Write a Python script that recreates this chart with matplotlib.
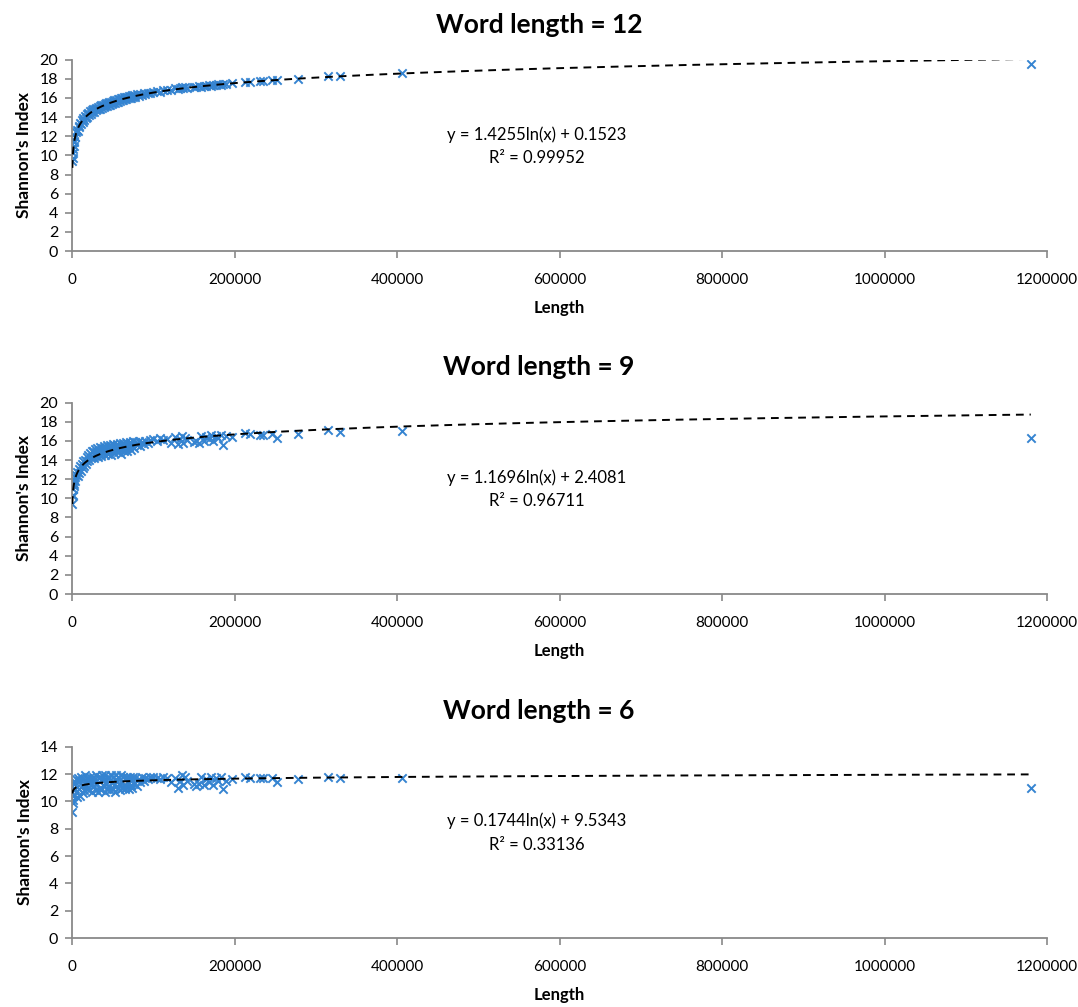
import numpy as np
import matplotlib
matplotlib.use('Agg')
import matplotlib.pyplot as plt

plt.rcParams['font.family'] = ['Lato', 'DejaVu Sans']

# sequence lengths (shared by the three panels)
lengths = [
    400, 700, 1000, 1500, 2000, 2500, 3000, 3500, 4000, 5000,
    6000, 7000, 8000, 9000, 10000, 11000, 12000, 13000, 14000, 15000,
    16000, 17000, 18000, 19000, 20000, 21000, 22000, 23000, 24000, 25000,
    26000, 27000, 28000, 29000, 30000, 31000, 32000, 33000, 34000, 35000,
    36000, 37000, 38000, 39000, 40000, 41000, 42000, 43000, 44000, 45000,
    46000, 47000, 48000, 49000, 50000, 51000, 52000, 53000, 54000, 55000,
    56000, 57000, 58000, 59000, 60000, 61000, 62000, 63000, 64000, 65000,
    66000, 67000, 68000, 69000, 70000, 71000, 72000, 73000, 74000, 75000,
    76000, 78000, 80000, 82000, 84000, 86000, 88000, 90000, 93000, 96000,
    100000, 104000, 108000, 112000, 117000, 122000, 127000, 130000, 133000, 135000,
    137000, 139000, 141000, 150000, 153000, 156000, 159000, 162000, 165000, 168000,
    171000, 174000, 177000, 180000, 183000, 186000, 190000, 196600, 213000, 219000,
    231500, 235000, 245800, 252000, 278500, 315400, 330000, 405800, 1180000,
]

shannon_12 = [
    9.4, 9.7, 10.2, 10.7, 11.0, 11.4, 11.5, 11.9, 11.9, 12.4,
    12.7, 12.6, 13.1, 13.0, 13.4, 13.3, 13.7, 13.5, 13.9, 13.7,
    14.1, 13.9, 14.3, 14.0, 14.4, 14.2, 14.6, 14.3, 14.7, 14.5,
    14.8, 14.5, 14.9, 14.7, 15.0, 14.8, 15.1, 14.9, 15.2, 14.9,
    15.3, 15.0, 15.3, 15.1, 15.4, 15.2, 15.5, 15.2, 15.5, 15.3,
    15.6, 15.3, 15.6, 15.4, 15.7, 15.5, 15.8, 15.5, 15.8, 15.6,
    15.9, 15.6, 15.9, 15.7, 16.0, 15.8, 16.0, 15.8, 16.1, 15.9,
    16.1, 15.9, 16.1, 16.0, 16.2, 16.0, 16.2, 16.0, 16.3, 16.1,
    16.3, 16.1, 16.4, 16.2, 16.4, 16.3, 16.5, 16.4, 16.5, 16.5,
    16.6, 16.7, 16.6, 16.8, 16.8, 16.8, 17.0, 16.9, 17.0, 17.1,
    17.0, 17.1, 17.0, 17.2, 17.1, 17.3, 17.2, 17.3, 17.3, 17.4,
    17.3, 17.4, 17.4, 17.5, 17.4, 17.5, 17.5, 17.6, 17.7, 17.7,
    17.8, 17.8, 17.9, 17.9, 18.0, 18.3, 18.3, 18.6, 19.6,
]

shannon_9 = [
    9.4, 10.2, 10.4, 11.0, 11.5, 11.3, 11.9, 12.2, 11.8, 12.4,
    12.8, 12.3, 13.1, 12.7, 13.4, 12.9, 13.6, 13.2, 13.9, 13.4,
    14.0, 13.6, 14.3, 13.9, 14.5, 14.0, 14.7, 14.2, 14.9, 14.3,
    15.0, 14.2, 15.2, 14.4, 14.8, 15.3, 14.3, 15.1, 14.6, 15.4,
    14.4, 15.3, 14.8, 15.5, 14.5, 15.2, 14.9, 15.6, 14.6, 15.3,
    14.9, 15.6, 14.5, 15.4, 15.0, 15.7, 14.7, 15.5, 15.1, 15.7,
    14.8, 15.6, 15.2, 15.8, 14.6, 15.5, 15.1, 15.8, 14.9, 15.6,
    15.3, 15.9, 15.0, 15.7, 15.4, 15.9, 15.1, 15.8, 15.5, 16.0,
    15.3, 15.9, 15.6, 16.0, 15.5, 15.9, 15.7, 16.0, 15.8, 16.1,
    16.2, 16.0, 16.3, 16.1, 16.2, 15.8, 16.4, 15.7, 16.2, 16.5,
    15.8, 16.3, 16.1, 15.9, 16.0, 15.8, 16.5, 16.0, 16.4, 16.2,
    16.6, 16.0, 16.5, 16.3, 16.6, 15.6, 16.5, 16.4, 16.8, 16.7,
    16.6, 16.6, 16.7, 16.3, 16.7, 17.1, 16.9, 17.0, 16.35,
]

shannon_6 = [
    9.2, 9.9, 10.4, 10.1, 10.8, 11.3, 10.5, 11.4, 10.9, 11.6,
    10.3, 11.7, 10.9, 11.5, 10.4, 11.8, 11.1, 10.6, 11.6, 10.8,
    11.9, 11.2, 10.9, 11.7, 11.4, 10.8, 11.8, 11.2, 11.5, 10.7,
    11.8, 11.1, 11.6, 10.8, 11.9, 11.3, 10.7, 11.7, 11.0, 11.8,
    10.8, 11.9, 11.2, 11.6, 10.7, 11.9, 11.3, 10.9, 11.8, 11.1,
    11.7, 10.8, 11.9, 11.4, 10.9, 11.8, 11.2, 10.7, 11.9, 11.5,
    11.0, 11.8, 11.3, 10.8, 11.9, 11.4, 11.0, 11.8, 11.2, 10.9,
    11.7, 11.1, 11.8, 11.4, 10.9, 11.8, 11.2, 11.6, 11.0, 11.8,
    11.3, 11.7, 11.1, 11.6, 11.4, 11.8, 11.5, 11.7, 11.6, 11.8,
    11.8, 11.7, 11.6, 11.8, 11.7, 11.4, 11.7, 11.0, 11.5, 11.9,
    11.2, 11.8, 11.5, 11.3, 11.1, 11.3, 11.8, 11.2, 11.6, 11.4,
    11.8, 11.2, 11.7, 11.5, 11.8, 10.9, 11.5, 11.6, 11.8, 11.7,
    11.7, 11.7, 11.7, 11.4, 11.6, 11.8, 11.7, 11.7, 11.0,
]

titles = ['Word length = 12', 'Word length = 9', 'Word length = 6']
series = [shannon_12, shannon_9, shannon_6]
# logarithmic trendline coefficients shown on the chart: y = a ln(x) + b
trend_a = [1.4255, 1.1696, 0.1744]
trend_b = [0.1523, 2.4081, 9.5343]
trend_r2 = ['0.99952', '0.96711', '0.33136']
y_max = [20, 20, 14]

grey = '#898989'
blue = '#3584d1'

fig = plt.figure(figsize=(10.78, 10.07), dpi=100)
bottoms = [0.7507, 0.4101, 0.0685]
title_y = [0.975, 0.636, 0.294]
x = np.array(lengths, dtype=float)
xt = np.geomspace(x.min(), x.max(), 400)

for i in range(3):
    ax = fig.add_axes([0.0668, bottoms[i], 0.9045, 0.1900])
    ax.scatter(x, series[i], marker='x', s=36, color=blue, linewidths=1.4, zorder=2)
    ax.plot(xt, trend_a[i] * np.log(xt) + trend_b[i], color='black',
            linestyle=(0, (4, 3)), linewidth=1.4, zorder=3)

    ax.set_xlim(0, 1200000)
    ax.set_ylim(0, y_max[i])
    ax.set_xticks(np.arange(0, 1200001, 200000))
    ax.set_xticklabels([str(v) for v in range(0, 1200001, 200000)])
    ax.set_yticks(np.arange(0, y_max[i] + 1, 2))

    for side in ['top', 'right']:
        ax.spines[side].set_visible(False)
    for side in ['left', 'bottom']:
        ax.spines[side].set_color(grey)
        ax.spines[side].set_linewidth(1.3)
    ax.tick_params(axis='x', direction='out', length=5, width=1.2, color=grey,
                   labelsize=11, pad=11)
    ax.tick_params(axis='y', direction='out', length=5, width=1.2, color=grey,
                   labelsize=11.5, pad=5)

    # chart title is centred on the whole figure, like the spreadsheet chart
    fig.text(0.5, title_y[i], titles[i], fontsize=19, fontweight='bold',
             ha='center', va='center')
    ax.set_xlabel('Length', fontsize=12, fontweight='bold', labelpad=9)
    ax.set_ylabel("Shannon's Index", fontsize=12.5, fontweight='bold', labelpad=5)

    ax.text(0.477, 0.55, 'y = %.4fln(x) + %.4f\nR² = %s' % (trend_a[i], trend_b[i], trend_r2[i]),
            transform=ax.transAxes, ha='center', va='center', multialignment='center',
            fontsize=12, linespacing=1.55)

fig.savefig('out.png', dpi=100)
